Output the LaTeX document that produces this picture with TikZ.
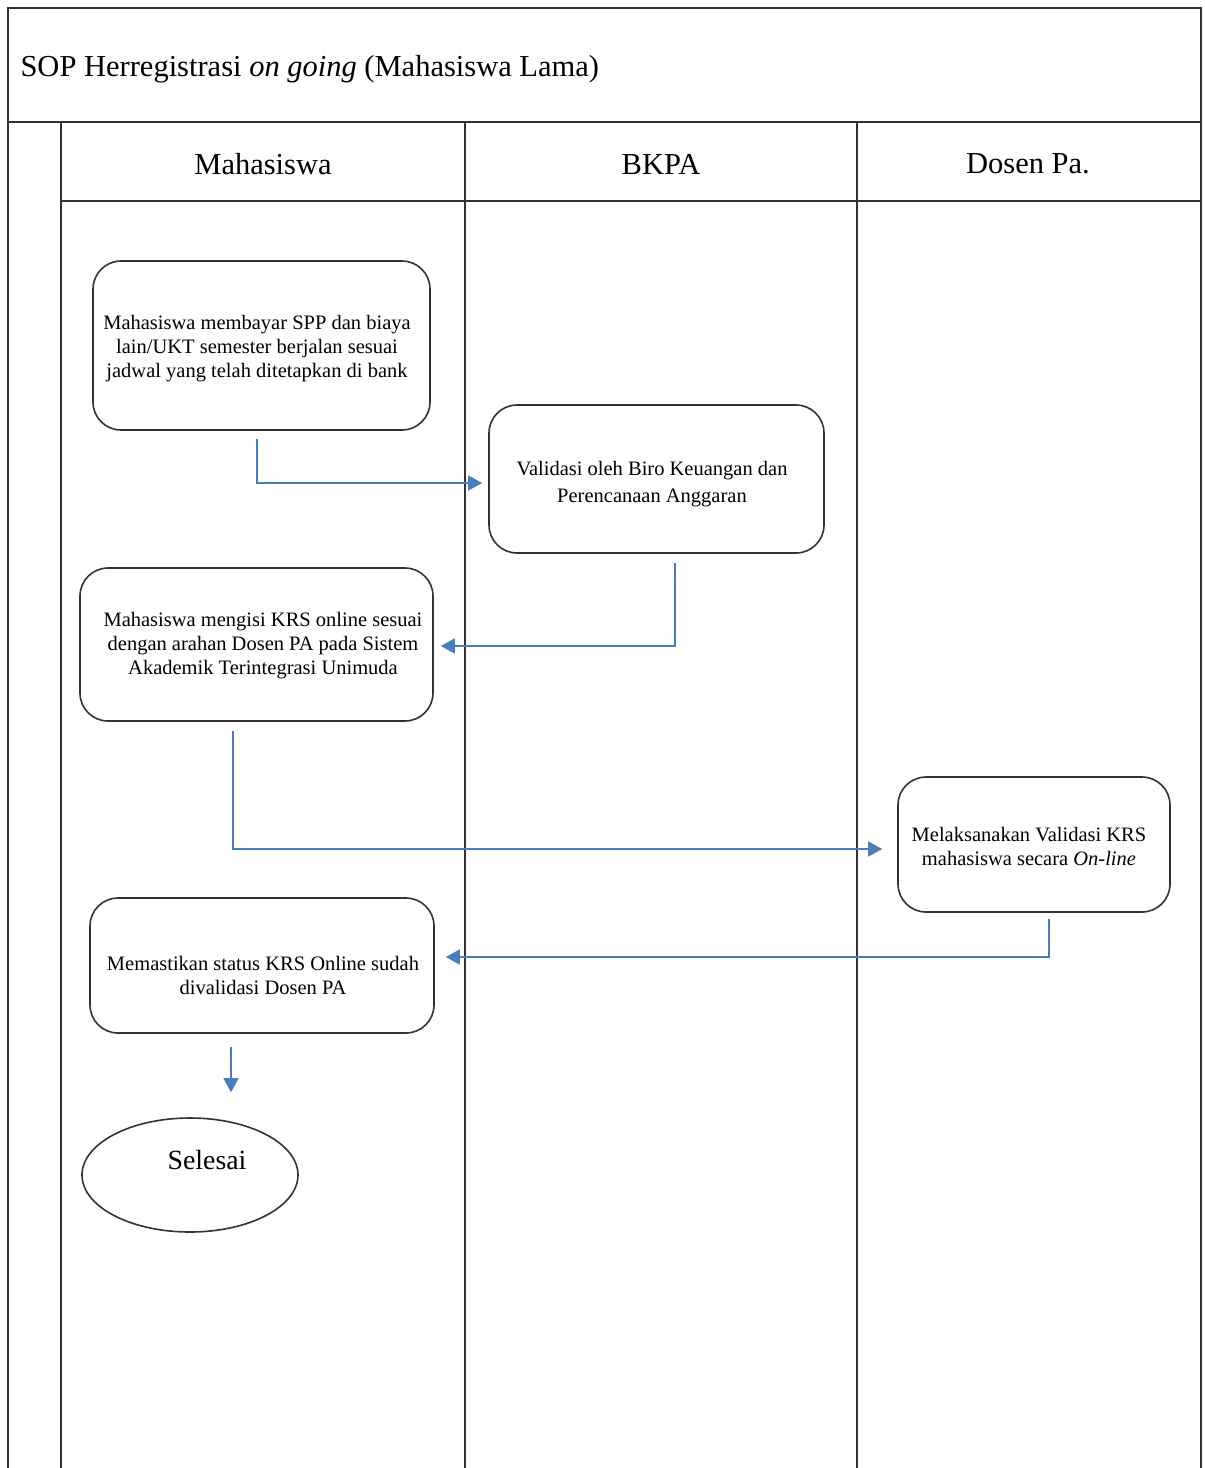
\documentclass[tikz,border=0pt]{standalone}
\usepackage{fontspec}
\setmainfont{Liberation Serif}
\usetikzlibrary{arrows.meta,shapes.geometric}
\definecolor{flowblue}{HTML}{4A7EBB}
\definecolor{frame}{HTML}{333333}
\begin{document}
\begin{tikzpicture}[x=1pt,y=-1pt,
  frameline/.style={draw=frame,line width=1.6pt},
  stepbox/.style={draw=frame,line width=1.6pt,rounded corners=28pt,inner sep=0pt},
  steptext/.style={align=center,font=\fontsize{20.5}{24}\selectfont,inner sep=0pt},
  lanetitle/.style={font=\fontsize{30.5}{34}\selectfont},
  flow/.style={draw=flowblue,line width=1.5pt,-{Triangle[length=14pt,width=15pt]}}]
\useasboundingbox (0,0) rectangle (1205,1468);
% swimlane frame
\draw[frameline] (8,1468) -- (8,8) -- (1201,8) -- (1201,1468);
\draw[frameline] (8,122) -- (1201,122);
\draw[frameline] (61,122) -- (61,1468);
\draw[frameline] (465,122) -- (465,1468);
\draw[frameline] (857,122) -- (857,1468);
\draw[frameline] (61,201) -- (1201,201);
\node[anchor=west,font=\fontsize{30.5}{34}\selectfont] (title) at (17,69)
  {SOP Herregistrasi \textit{on going} (Mahasiswa Lama)};
\node[lanetitle] (lane1) at (263,164) {Mahasiswa};
\node[lanetitle] (lane2) at (661,164) {BKPA};
\node[lanetitle] (lane3) at (1028,164) {Dosen Pa.};
% process steps
\node[stepbox,minimum width=337pt,minimum height=169pt] (b1) at (261.5,345.5) {};
\node[steptext] (b1t) at (257,349)
  {Mahasiswa membayar SPP dan biaya\\ lain/UKT semester berjalan sesuai\\ jadwal yang telah ditetapkan di bank};
\node[stepbox,minimum width=335pt,minimum height=148pt] (b2) at (656.5,479) {};
\node[steptext] (b2t) at (652,484.5)
  {Validasi oleh Biro Keuangan dan\\[3pt] Perencanaan Anggaran};
\node[stepbox,minimum width=353pt,minimum height=153pt] (b3) at (256.5,644.5) {};
\node[steptext] (b3t) at (263,646)
  {Mahasiswa mengisi KRS online sesuai\\ dengan arahan Dosen PA pada Sistem\\ Akademik Terintegrasi Unimuda};
\node[stepbox,minimum width=272pt,minimum height=135pt] (b4) at (1034,844.5) {};
\node[steptext] (b4t) at (1029,846.5)
  {Melaksanakan Validasi KRS\\ mahasiswa secara \textit{On-line}};
\node[stepbox,minimum width=344pt,minimum height=135pt] (b5) at (262,965.5) {};
\node[steptext] (b5t) at (263,975)
  {Memastikan status KRS Online sudah\\ divalidasi Dosen PA};
\node[ellipse,draw=frame,line width=1.6pt,minimum width=216pt,minimum height=114pt,
  inner sep=0pt] (sel) at (190,1175) {};
\node[font=\fontsize{27.8}{30}\selectfont] (seltext) at (207,1160) {Selesai};
% connectors
\draw[flow,shorten <=8pt,shorten >=6pt] ([xshift=-4.5pt]b1.south) |- ([yshift=-4pt]b2.west);
\draw[flow,shorten <=9pt,shorten >=7pt] ([xshift=18.5pt]b2.south) |- ([yshift=-1.5pt]b3.east);
\draw[flow,shorten <=9pt,shorten >=15pt] ([xshift=-23.5pt]b3.south) |- ([yshift=-4.5pt]b4.west);
\draw[flow,shorten <=6pt,shorten >=11pt] ([xshift=15pt]b4.south) |- ([yshift=8.5pt]b5.east);
\draw[flow,shorten <=13pt,shorten >=25pt] ([xshift=-31pt]b5.south) -- ([xshift=-31pt]b5.south |- sel.north);
\end{tikzpicture}
\end{document}
